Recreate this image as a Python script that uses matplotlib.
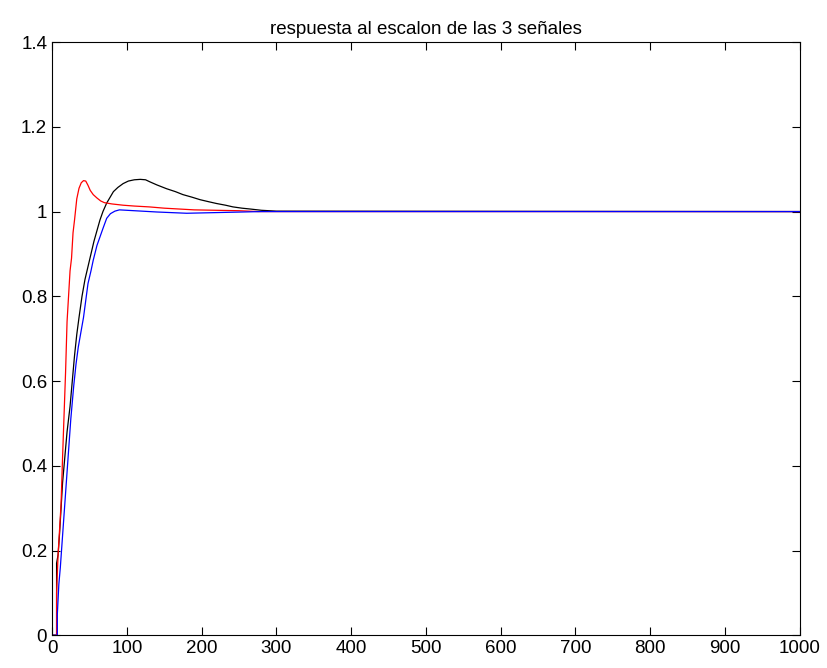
import matplotlib
matplotlib.use("Agg")
import matplotlib.pyplot as plt

# ----------------------------------------------------------------------------------------------------------------------
# datos (respuesta al escalon) -----------------------------------------------------------------------------------------
t_rojo = [0, 6, 6, 8, 10, 12, 14, 16, 18, 20, 22, 24, 26, 28, 30, 33, 36, 39, 42, 45, 48, 51, 55, 60, 65, 70,
          80, 95, 110, 130, 150, 170, 190, 220, 250, 276, 1000]
y_rojo = [0, 0, 0.10, 0.19, 0.25, 0.31, 0.42, 0.52, 0.62, 0.74, 0.80, 0.86, 0.89, 0.95, 0.98, 1.03, 1.055, 1.068,
          1.073, 1.072, 1.062, 1.05, 1.04, 1.032, 1.025, 1.021, 1.018, 1.015, 1.013, 1.011, 1.008, 1.006, 1.004,
          1.003, 1.002, 1.0, 1.0]

t_negro = [0, 6, 6, 8, 10, 12, 14, 16, 18, 20, 22, 24, 26, 28, 30, 33, 36, 40, 44, 48, 52, 56, 60, 64, 68, 73,
           78, 82, 88, 95, 102, 110, 118, 125, 131, 140, 153, 165, 175, 187, 198, 210, 220, 232, 242, 254, 265,
           280, 290, 300, 1000]
y_negro = [0, 0, 0.17, 0.19, 0.24, 0.30, 0.36, 0.40, 0.44, 0.48, 0.51, 0.54, 0.58, 0.62, 0.66, 0.71, 0.75, 0.80,
           0.84, 0.87, 0.90, 0.93, 0.955, 0.98, 1.00, 1.02, 1.035, 1.047, 1.057, 1.066, 1.072, 1.075, 1.076, 1.075,
           1.07, 1.063, 1.054, 1.047, 1.040, 1.034, 1.028, 1.023, 1.019, 1.015, 1.011, 1.008, 1.006, 1.003, 1.002,
           1.001, 1.0]

t_azul = [0, 7, 7, 9, 11, 13, 15, 17, 19, 21, 23, 25, 27, 29, 32, 35, 38, 42, 45, 48, 52, 55, 60, 64, 68, 73, 78,
          84, 90, 140, 180, 280, 1000]
y_azul = [0, 0, 0.05, 0.12, 0.16, 0.21, 0.26, 0.31, 0.36, 0.41, 0.46, 0.51, 0.55, 0.59, 0.64, 0.68, 0.71, 0.75,
          0.79, 0.83, 0.86, 0.885, 0.92, 0.94, 0.96, 0.984, 0.995, 1.001, 1.004, 0.999, 0.996, 1.0, 1.0]

x_ticks = [0, 100, 200, 300, 400, 500, 600, 700, 800, 900, 1000]
y_ticks = [0, 0.2, 0.4, 0.6, 0.8, 1, 1.2, 1.4]
y_labels = ["0", "0.2", "0.4", "0.6", "0.8", "1", "1.2", "1.4"]

# ----------------------------------------------------------------------------------------------------------------------
plt.rcParams['font.family'] = ['Liberation Sans', 'DejaVu Sans']

fig = plt.figure(figsize=(8.27, 6.68), dpi=100)
ax = fig.add_axes([0.063, 0.049, 0.904, 0.888])

ax.plot(t_negro, y_negro, color='black', linewidth=0.9)
ax.plot(t_rojo, y_rojo, color='red', linewidth=0.9)
ax.plot(t_azul, y_azul, color='blue', linewidth=0.9)

ax.set_xlim(0, 1000)
ax.set_ylim(0, 1.4)
ax.set_xticks(x_ticks)
ax.set_yticks(y_ticks)
ax.set_yticklabels(y_labels)
ax.tick_params(direction='in', top=True, right=True, labelsize=13.5, length=6)
ax.set_title("respuesta al escalon de las 3 señales", fontsize=13.5)

fig.savefig("out.png", dpi=100)
